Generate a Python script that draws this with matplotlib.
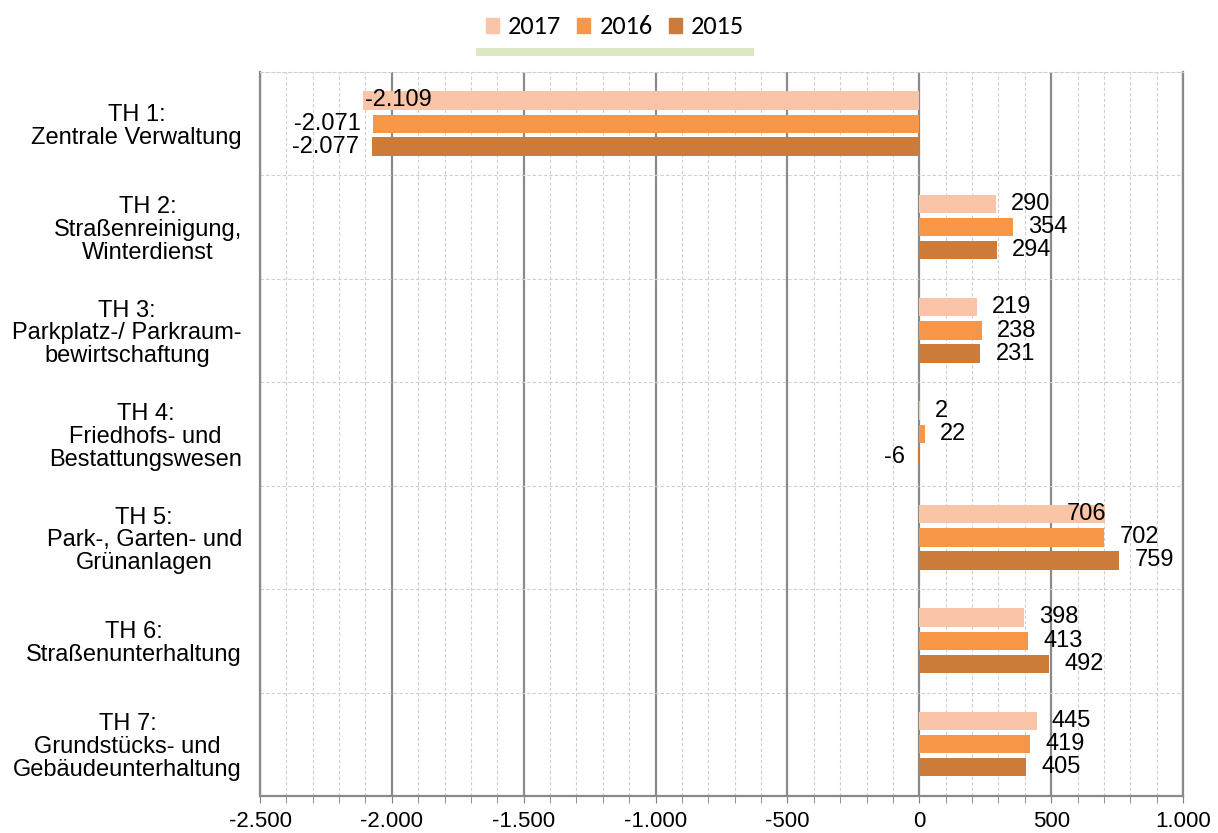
import matplotlib
matplotlib.use("Agg")
import matplotlib.pyplot as plt
from matplotlib.ticker import FuncFormatter, MultipleLocator, FixedLocator

plt.rcParams['font.family'] = ['Liberation Sans', 'DejaVu Sans']

categories = ["TH 1:\nZentrale Verwaltung",
              "TH 2:\nStraßenreinigung,\nWinterdienst",
              "TH 3:\nParkplatz-/ Parkraum-\nbewirtschaftung",
              "TH 4:\nFriedhofs- und\nBestattungswesen",
              "TH 5:\nPark-, Garten- und\nGrünanlagen",
              "TH 6:\nStraßenunterhaltung",
              "TH 7:\nGrundstücks- und\nGebäudeunterhaltung"]
years = ["2017", "2016", "2015"]
values_2017 = [-2109, 290, 219, 2, 706, 398, 445]
values_2016 = [-2071, 354, 238, 22, 702, 413, 419]
values_2015 = [-2077, 294, 231, -6, 759, 492, 405]
series = [values_2017, values_2016, values_2015]
colors = ["#F9C4A8", "#F79646", "#CD7B39"]

# Excel put these two labels at the bar end instead of outside
inside_labels = {(0, 0): "left", (4, 0): "right"}


def de_fmt(v, pos=None):
    s = f"{abs(int(round(v))):,}".replace(",", ".")
    return "-" + s if v < 0 else s


fig = plt.figure(figsize=(12.18, 8.33), dpi=100)
ax = fig.add_axes([260 / 1218, 1 - 796 / 833, 923 / 1218, 724 / 833])

offsets = [-0.226, 0.0, 0.222]
bar_h = 0.178
ypos = range(len(categories))

for s, (vals, col, off) in enumerate(zip(series, colors, offsets)):
    yy = [y + off for y in ypos]
    ax.barh(yy, vals, height=bar_h, color=col, edgecolor="none", zorder=3)
    for c, (y, v) in enumerate(zip(yy, vals)):
        mode = inside_labels.get((c, s))
        if mode == "left":
            ax.annotate(de_fmt(v), (v, y), xytext=(1, 0), textcoords="offset points",
                        ha="left", va="center", fontsize=17, zorder=5)
        elif mode == "right":
            ax.annotate(de_fmt(v), (v, y), xytext=(1, 0), textcoords="offset points",
                        ha="right", va="center", fontsize=17, zorder=5)
        elif v >= 0:
            ax.annotate(de_fmt(v), (v, y), xytext=(11, 0), textcoords="offset points",
                        ha="left", va="center", fontsize=17, zorder=5)
        else:
            ax.annotate(de_fmt(v), (v, y), xytext=(-9, 0), textcoords="offset points",
                        ha="right", va="center", fontsize=17, zorder=5)

ax.set_xlim(-2500, 1000)
ax.set_ylim(len(categories) - 0.5, -0.5)

ax.xaxis.set_major_locator(MultipleLocator(500))
ax.xaxis.set_minor_locator(MultipleLocator(100))
ax.xaxis.set_major_formatter(FuncFormatter(de_fmt))
ax.tick_params(axis="x", which="both", direction="out", length=5, color="#808080",
               labelsize=16, pad=6)
ax.grid(axis="x", which="major", color="#8a8a8a", linewidth=1.6, zorder=0)
ax.grid(axis="x", which="minor", color="#cfcfcf", linestyle=(0, (3, 2)), linewidth=0.8, zorder=0)

ax.set_yticks(list(ypos))
ax.set_yticklabels(categories, fontsize=17, ha="right", multialignment="center",
                   linespacing=1.05)
ax.yaxis.set_minor_locator(FixedLocator([i + 0.5 for i in range(len(categories) - 1)]))
ax.tick_params(axis="y", which="both", length=0, pad=13)
ax.grid(axis="y", which="minor", color="#cfcfcf", linestyle=(0, (3, 2)), linewidth=0.8, zorder=0)

for side in ["left", "bottom", "right"]:
    ax.spines[side].set_color("#8a8a8a")
    ax.spines[side].set_linewidth(1.6)
ax.spines["top"].set_color("#cfcfcf")
ax.spines["top"].set_linestyle((0, (3, 2)))
ax.spines["top"].set_linewidth(0.8)

handles = [plt.Rectangle((0, 0), 1, 1, color=c) for c in colors]
leg = fig.legend(handles, years, loc="center", bbox_to_anchor=(615 / 1218, 1 - 27 / 833),
                 ncol=3, frameon=True, fancybox=False,
                 prop={"family": ["Carlito", "Lato", "DejaVu Sans"], "size": 19},
                 handlelength=0.5, handleheight=0.5, handletextpad=0.35,
                 columnspacing=0.6, borderpad=0.35,
                 shadow={"ox": 0, "oy": -6, "facecolor": "#dce8c4", "edgecolor": "none", "alpha": 1})
leg.get_frame().set_edgecolor("white")
leg.get_frame().set_linewidth(0)

fig.savefig("out.png", dpi=100)
